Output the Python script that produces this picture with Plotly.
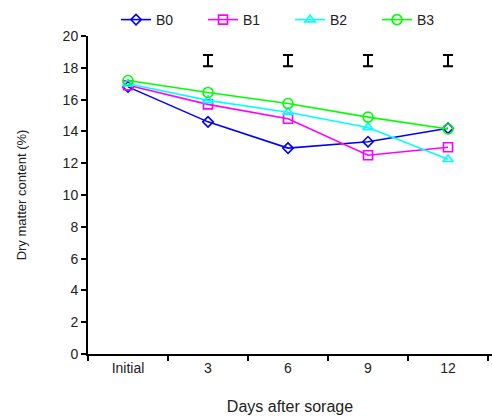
import plotly.graph_objects as go

categories = ["Initial", "3", "6", "9", "12"]
b0 = [16.8, 14.6, 12.95, 13.35, 14.2]
b1 = [16.9, 15.7, 14.8, 12.5, 13.0]
b2 = [17.0, 15.95, 15.2, 14.25, 12.25]
b3 = [17.2, 16.45, 15.75, 14.9, 14.15]
lsd_x = ["3", "6", "9", "12"]
lsd_center = [18.45, 18.45, 18.45, 18.45]
lsd_half = [0.35, 0.35, 0.35, 0.35]

series = [
    ("B0", b0, "#0000ff", "diamond-open", 8),
    ("B1", b1, "#ff00ff", "square-open", 9),
    ("B2", b2, "#00ffff", "triangle-up-open", 9),
    ("B3", b3, "#00ff00", "circle-open", 10),
]

fig = go.Figure()
for name, vals, col, sym, sz in series:
    fig.add_trace(go.Scatter(
        x=categories, y=vals, name=name, mode="lines+markers",
        line=dict(color=col, width=1.6),
        marker=dict(symbol=sym, size=sz, color=col, line=dict(width=1.6, color=col)),
    ))

fig.add_trace(go.Scatter(
    x=lsd_x, y=lsd_center, mode="markers", showlegend=False,
    marker=dict(size=0.1, color="black", opacity=0),
    error_y=dict(type="data", array=lsd_half, symmetric=True,
                 color="black", thickness=2, width=5),
))

fig.update_layout(
    width=492, height=418,
    margin=dict(l=88, r=0, t=36, b=64),
    paper_bgcolor="white", plot_bgcolor="white",
    font=dict(family="Liberation Sans, Arial, sans-serif", size=14, color="#222"),
    showlegend=True,
    legend=dict(orientation="h", x=0.50, xanchor="center", y=1.0, yanchor="bottom",
                font=dict(size=14, color="#222"), itemwidth=30, entrywidth=42,
                tracegroupgap=0, bgcolor="rgba(0,0,0,0)"),
    xaxis=dict(
        type="category", categoryorder="array", categoryarray=categories,
        range=[-0.5, 4.55], showline=True, linecolor="black", linewidth=2,
        ticks="outside", tickson="boundaries", ticklen=5, tickwidth=2, tickcolor="black",
        showgrid=False, zeroline=False,
        title=dict(text="Days after sorage", font=dict(size=16, color="#222"), standoff=26),
    ),
    yaxis=dict(
        range=[0, 20], tickvals=list(range(0, 21, 2)), showline=True, linecolor="black",
        linewidth=2, ticks="outside", ticklen=5, tickwidth=2, tickcolor="black",
        showgrid=False, zeroline=False,
        title=dict(text="Dry matter content (%)", font=dict(size=13, color="#222"), standoff=33),
    ),
)

fig.write_html("out.html")
